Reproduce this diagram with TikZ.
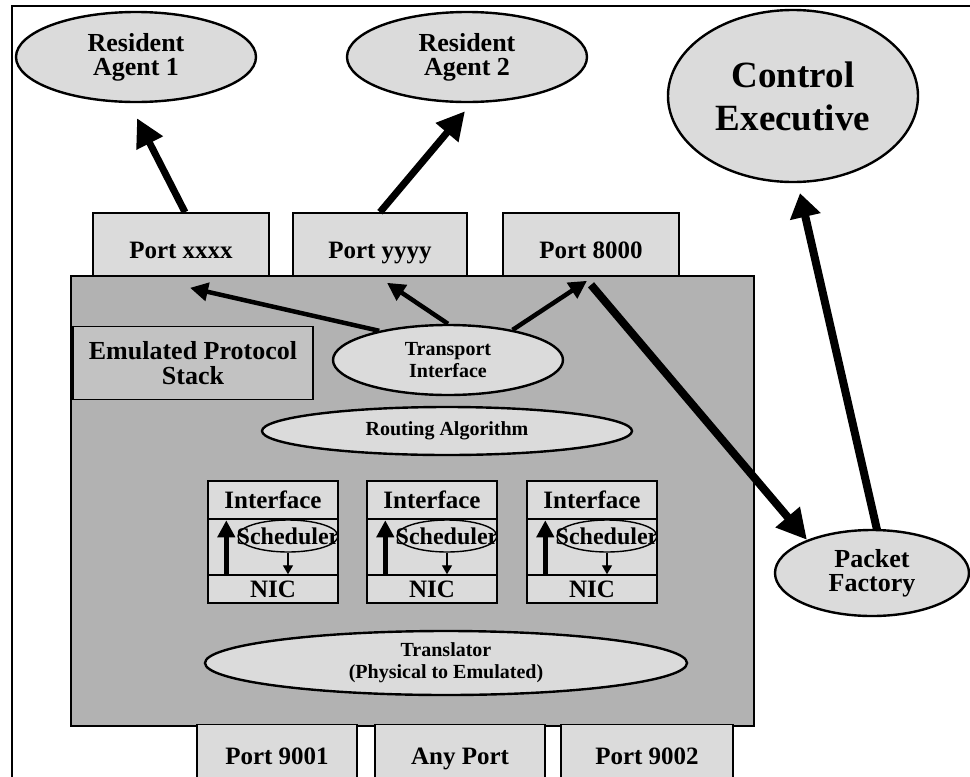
\documentclass[tikz,border=0pt]{standalone}
\usepackage{fontspec}
\setmainfont{Liberation Serif}
\usetikzlibrary{shapes.geometric, arrows.meta, calc}
\definecolor{dotfill}{gray}{0.86}
\definecolor{boxfill}{gray}{0.70}
\definecolor{stackfill}{gray}{0.76}
\newcommand{\setsize}[2]{\fontsize{#1}{#2}\selectfont}

\begin{document}
\begin{tikzpicture}[x=1pt, y=-1pt,
    oval/.style={ellipse, draw, line width=2.4pt, fill=dotfill, inner sep=0pt,
      align=center, font=\bfseries\setsize{26}{24}},
    smalloval/.style={oval, font=\bfseries\setsize{20}{22}},
    portbox/.style={rectangle, draw, line width=1.6pt, fill=dotfill,
      minimum height=63pt, font=\bfseries\setsize{25}{26}},
    cell/.style={rectangle, draw, line width=1.4pt, fill=dotfill,
      minimum width=130pt, inner sep=0pt, font=\bfseries\setsize{25}{26}},
    schedoval/.style={ellipse, draw, line width=1.4pt, inner sep=0pt,
      minimum width=100pt, minimum height=32pt},
    heavy/.style={line width=7pt, -{Triangle[length=28pt, width=28pt]}},
    light/.style={line width=4.5pt, -{Triangle[length=18pt, width=18pt]}}]
  \useasboundingbox (0,0) rectangle (970,777);

  % Draw frame.
  \draw[line width=1.8pt] (12,777) -- (12,6) -- (970,6);

  % Draw emulated stack area.
  \node[draw, line width=1.6pt, fill=boxfill, minimum width=683pt,
        minimum height=450pt] (emu) at (412.5,501) {};
  \node[draw, line width=1.6pt, fill=stackfill, minimum width=240pt,
        minimum height=73pt, align=center, inner sep=0pt,
        font=\bfseries\setsize{26}{25}] (stack) at (193,363)
        {Emulated Protocol\\Stack};

  % Draw ports.
  \node[portbox, minimum width=176pt, text height=32pt, text depth=5pt]
        (pxxxx) at (181,244.5) {Port xxxx};
  \node[portbox, minimum width=174pt, text height=32pt, text depth=5pt]
        (pyyyy) at (380,244.5) {Port yyyy};
  \node[portbox, minimum width=176pt, text height=32pt, text depth=5pt]
        (p8000) at (591,244.5) {Port 8000};
  \node[portbox, minimum width=160pt, text height=22pt, text depth=5pt]
        (p9001) at (277,756) {Port 9001};
  \node[portbox, minimum width=170pt, text height=22pt, text depth=5pt]
        (pany) at (460,756) {Any Port};
  \node[portbox, minimum width=172pt, text height=22pt, text depth=5pt]
        (p9002) at (647,756) {Port 9002};

  % Draw agents and outside processes.
  \node[oval, minimum width=240pt, minimum height=90pt] (ra1) at (136,57)
        {Resident\\Agent 1};
  \node[oval, minimum width=240pt, minimum height=90pt] (ra2) at (467,57)
        {Resident\\Agent 2};
  \node[oval, minimum width=250pt, minimum height=172pt,
        font=\bfseries\setsize{37}{43}] (ce) at (793,96) {Control\\Executive};
  \node[oval, minimum width=194pt, minimum height=86pt] (pf) at (872,573)
        {Packet\\Factory};

  % Draw layers inside the stack.
  \node[smalloval, minimum width=230pt, minimum height=70pt] (ti) at (448,360)
        {Transport\\Interface};
  \node[smalloval, minimum width=370pt, minimum height=48pt] (ra) at (447,431)
        {Routing Algorithm};
  \node[smalloval, minimum width=482pt, minimum height=64pt] (tr) at (446,663)
        {Translator\\(Physical to Emulated)};

  % Draw interfaces.
  \foreach \i/\x in {1/273, 2/432, 3/592} {
    \node[cell, minimum height=38pt] (if\i) at (\x,500) {Interface};
    \node[cell, minimum height=56pt] (mid\i) at (\x,547) {};
    \node[cell, minimum height=28pt] (nic\i) at (\x,589) {NIC};
    \node[schedoval] (sch\i) at (\x+15,536) {};
    \node[font=\bfseries\setsize{24}{24}, inner sep=0pt] at (sch\i) {Scheduler};
    \draw[line width=4.5pt, -{Triangle[length=17pt, width=17pt]}]
          ($(nic\i.north west)+(19,0)$) -- ($(mid\i.north west)+(19,2)$);
    \draw[line width=1.2pt, -{Triangle[length=9pt, width=10pt]}]
          (sch\i.south) -- (sch\i.south |- nic\i.north);
  }

  % Draw connections.
  \draw[heavy] ($(pxxxx.north)+(4,0)$) -- ($(ra1.south)+(1,15)$);
  \draw[heavy] (pyyyy.north) -- ($(ra2.south)+(-2,8)$);
  \draw[light] (ti.157) -- ($(pxxxx.south)+(9,11)$);
  \draw[light] (ti.north) -- ($(pyyyy.south)+(7,6)$);
  \draw[light] (ti.25) -- ($(p8000.south)+(-4,4)$);
  \draw[heavy, line width=8pt, -{Triangle[length=30pt, width=30pt]}]
        ($(p8000.south)+(0,8)$) -- (pf.153);
  \draw[heavy, line width=8pt, -{Triangle[length=24pt, width=30pt]}]
        ($(pf.north)+(5,1)$) -- ($(ce.south)+(7,10)$);
\end{tikzpicture}
\end{document}
